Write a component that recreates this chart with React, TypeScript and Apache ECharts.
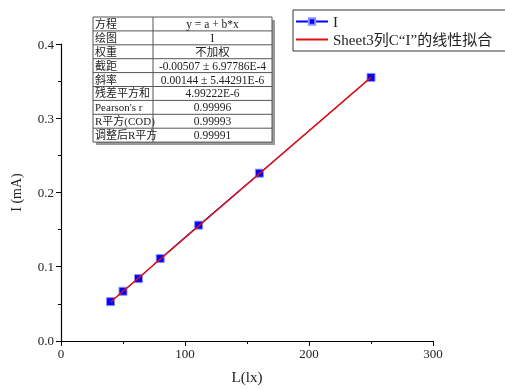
import React, { useEffect, useRef } from "react";
import * as echarts from "echarts";

const lightValues = [40, 50, 62.5, 80, 111, 160, 250];
const currentValues = [0.053, 0.067, 0.084, 0.111, 0.156, 0.226, 0.355];
const fitX = [40, 250];
const fitY = [0.0525, 0.355];
const tableKeys = ["方程", "绘图", "权重", "截距", "斜率", "残差平方和", "Pearson's r", "R平方(COD)", "调整后R平方"];
const tableVals = ["y = a + b*x", "I", "不加权", "-0.00507 ± 6.97786E-4", "0.00144 ± 5.44291E-6", "4.99222E-6", "0.99996", "0.99993", "0.99991"];
const seriesNames = ["I", "Sheet3列C“I”的线性拟合"];

const FONT = "'Liberation Serif', 'Noto Sans CJK SC', serif";

export default function App() {
  const ref = useRef<HTMLDivElement>(null);
  useEffect(() => {
    const chart = echarts.init(ref.current!, null, { renderer: "svg" });
    const tx = 93, ty = 17, c1 = 153, tw = 179, rh = 13.9;
    const th = rh * tableKeys.length;
    const g: any[] = [];
    g.push({ type: "rect", shape: { x: tx + 3, y: ty + 3, width: tw, height: th }, style: { fill: "#9a9a9a" }, z: 10 });
    g.push({ type: "rect", shape: { x: tx, y: ty, width: tw, height: th }, style: { fill: "#fff", stroke: "#555", lineWidth: 1 }, z: 11 });
    g.push({ type: "line", shape: { x1: c1, y1: ty, x2: c1, y2: ty + th }, style: { stroke: "#555", lineWidth: 1 }, z: 12 });
    tableKeys.forEach((k, i) => {
      if (i > 0) g.push({ type: "line", shape: { x1: tx, y1: ty + rh * i, x2: tx + tw, y2: ty + rh * i }, style: { stroke: "#555", lineWidth: 1 }, z: 12 });
      g.push({ type: "text", x: tx + 2, y: ty + rh * i + rh / 2, style: { text: k, fontSize: 11, fontFamily: FONT, fill: "#222", verticalAlign: "middle" }, z: 13 });
      g.push({ type: "text", x: (c1 + tx + tw) / 2, y: ty + rh * i + rh / 2, style: { text: tableVals[i], fontSize: 11.5, fontFamily: FONT, fill: "#222", align: "center", verticalAlign: "middle" }, z: 13 });
    });
    chart.setOption({
      animation: false,
      textStyle: { fontFamily: FONT },
      grid: { left: 61, right: 72, top: 44, bottom: 45 },
      legend: {
        orient: "vertical",
        left: 293,
        top: 10,
        borderColor: "#333",
        borderWidth: 1,
        padding: [4, 20, 4, 2],
        itemGap: 3,
        itemWidth: 32,
        itemHeight: 8,
        textStyle: { fontSize: 15, fontFamily: FONT, color: "#222" },
        data: [
          { name: seriesNames[0] },
          { name: seriesNames[1], itemStyle: { opacity: 0 } },
        ],
      },
      xAxis: {
        type: "value",
        min: 0,
        max: 300,
        interval: 100,
        name: "L(lx)",
        nameLocation: "middle",
        nameGap: 28,
        nameTextStyle: { fontSize: 15, color: "#222" },
        axisLine: { lineStyle: { color: "#000", width: 1.2 } },
        axisTick: { inside: false, length: 5, lineStyle: { color: "#000" } },
        minorTick: { show: true, splitNumber: 2, length: 3, lineStyle: { color: "#000" } },
        axisLabel: { fontSize: 13, color: "#222", margin: 6 },
        splitLine: { show: false },
      },
      yAxis: {
        type: "value",
        min: 0,
        max: 0.4,
        interval: 0.1,
        name: "I (mA)",
        nameLocation: "middle",
        nameGap: 38,
        nameTextStyle: { fontSize: 14, color: "#222" },
        axisLine: { show: true, lineStyle: { color: "#000", width: 1.2 } },
        axisTick: { show: true, inside: false, length: 5, lineStyle: { color: "#000" } },
        minorTick: { show: true, splitNumber: 2, length: 3, lineStyle: { color: "#000" } },
        axisLabel: { fontSize: 13, color: "#222", margin: 7, formatter: (v: number) => v.toFixed(1) },
        splitLine: { show: false },
      },
      series: [
        {
          name: seriesNames[0],
          type: "line",
          data: lightValues.map((x, i) => [x, currentValues[i]]),
          symbol: "rect",
          symbolSize: 8,
          itemStyle: { color: "#0000ff", borderColor: "#8f8fff", borderWidth: 1 },
          lineStyle: { color: "#0000ff", width: 1 },
          z: 2,
        },
        {
          name: seriesNames[1],
          type: "line",
          data: fitX.map((x, i) => [x, fitY[i]]),
          symbol: "none",
          itemStyle: { color: "#dd1111" },
          lineStyle: { color: "#dd1111", width: 1.5 },
          z: 3,
        },
      ],
      graphic: g,
    });
    return () => chart.dispose();
  }, []);
  return <div ref={ref} style={{ position: "fixed", left: 0, top: 0, width: 505, height: 389 }} />;
}
